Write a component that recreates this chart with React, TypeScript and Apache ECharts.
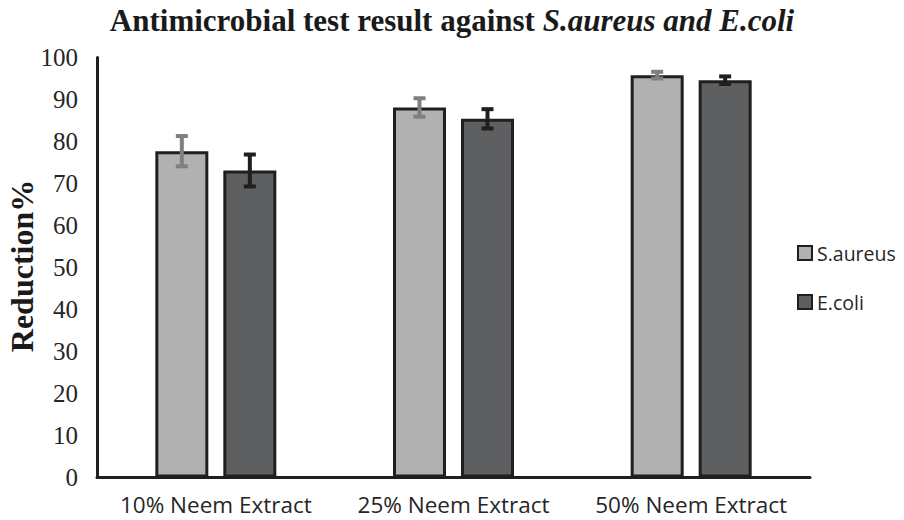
import React, { useEffect, useRef } from "react";
import * as echarts from "echarts";

const categories = ["10% Neem Extract", "25% Neem Extract", "50% Neem Extract"];
const seriesNames = ["S.aureus", "E.coli"];
const saureusValues = [77.7, 88.1, 95.8];
const saureusErrors = [3.6, 2.2, 0.8];
const ecoliValues = [73.1, 85.4, 94.6];
const ecoliErrors = [3.8, 2.3, 0.9];
const yTicks = { min: 0, max: 100, interval: 10 };
const yAxisName = "Reduction%";

const BAR_W = 53;
const GAP = 15;
const OFFSET = (BAR_W + GAP) / 2;

const errSeries = (name: string, vals: number[], errs: number[], color: string, offset: number) => ({
  type: "custom",
  name,
  z: 10,
  encode: { x: 0, y: 1 },
  data: vals.map((v, i) => [i, v, errs[i]]),
  renderItem: (params: any, api: any) => {
    const idx = api.value(0);
    const mean = api.value(1);
    const err = api.value(2);
    const top = api.coord([idx, mean + err]);
    const bot = api.coord([idx, mean - err]);
    const x = top[0] + offset;
    const st = { stroke: color, lineWidth: 4 };
    return {
      type: "group",
      children: [
        { type: "line", shape: { x1: x, y1: top[1], x2: x, y2: bot[1] }, style: st },
        { type: "line", shape: { x1: x - 6, y1: top[1], x2: x + 6, y2: top[1] }, style: st },
        { type: "line", shape: { x1: x - 6, y1: bot[1], x2: x + 6, y2: bot[1] }, style: st },
      ],
    };
  },
});

export default function App() {
  const ref = useRef<HTMLDivElement>(null);
  useEffect(() => {
    const chart = echarts.init(ref.current!, null, { renderer: "svg" });
    chart.setOption({
      animation: false,
      backgroundColor: "#ffffff",
      title: {
        left: "center",
        top: 0,
        text: "{a|Antimicrobial test result against }{b|S.aureus and E.coli}",
        textStyle: {
          rich: {
            a: { fontFamily: "Liberation Serif", fontWeight: "bold", fontSize: 31, color: "#1a1a1a" },
            b: { fontFamily: "Liberation Serif", fontWeight: "bold", fontStyle: "italic", fontSize: 31, color: "#1a1a1a" },
          },
        },
      },
      graphic: [
        {
          type: "text",
          x: 22,
          y: 266,
          rotation: Math.PI / 2,
          style: {
            text: yAxisName,
            fontFamily: "Liberation Serif",
            fontWeight: "bold",
            fontSize: 32,
            fill: "#1a1a1a",
            align: "center",
            verticalAlign: "middle",
          },
        },
      ],
      legend: {
        orient: "vertical",
        left: 797,
        top: 243,
        padding: 0,
        itemWidth: 14,
        itemHeight: 14,
        itemGap: 29,
        data: seriesNames,
        icon: "rect",
        itemStyle: { borderColor: "#1f1f1f", borderWidth: 2 },
        textStyle: { fontFamily: "Open Sans", fontSize: 19.5, color: "#262626", padding: [0, 0, 0, 0] },
      },
      grid: { left: 97, right: 94, top: 57.5, bottom: 42.5, outerBoundsMode: "none", containLabel: false },
      xAxis: {
        type: "category",
        data: categories,
        axisLine: { show: true, lineStyle: { color: "#1f1f1f", width: 3 } },
        axisTick: { show: false },
        axisLabel: {
          interval: 0,
          hideOverlap: false,
          fontFamily: "Open Sans",
          fontSize: 22.5,
          lineHeight: 22,
          color: "#262626",
          margin: 16,
        },
      },
      yAxis: {
        type: "value",
        min: yTicks.min,
        max: yTicks.max,
        interval: yTicks.interval,
        axisLine: { show: true, lineStyle: { color: "#1f1f1f", width: 3 } },
        axisTick: { show: false },
        splitLine: { show: false },
        axisLabel: { fontFamily: "Liberation Serif", fontSize: 25, color: "#262626", margin: 19 },
      },
      series: [
        {
          type: "bar",
          name: seriesNames[0],
          data: saureusValues,
          barWidth: BAR_W,
          barGap: (GAP / BAR_W) * 100 + "%",
          itemStyle: { color: "#b1b1b1", borderColor: "#1f1f1f", borderWidth: 3 },
        },
        {
          type: "bar",
          name: seriesNames[1],
          data: ecoliValues,
          barWidth: BAR_W,
          barGap: (GAP / BAR_W) * 100 + "%",
          itemStyle: { color: "#5e5f61", borderColor: "#1f1f1f", borderWidth: 3 },
        },
        errSeries("S.aureus error", saureusValues, saureusErrors, "#7f7f7f", -OFFSET),
        errSeries("E.coli error", ecoliValues, ecoliErrors, "#1f1f1f", OFFSET),
      ],
    });
    return () => chart.dispose();
  }, []);
  return <div ref={ref} style={{ width: 904, height: 520, position: "absolute", left: 0, top: 0 }} />;
}
